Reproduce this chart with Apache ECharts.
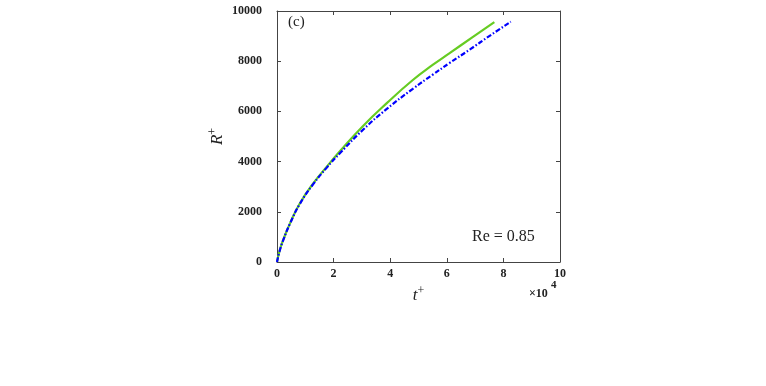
<!DOCTYPE html>
<html>
<head>
<meta charset="utf-8">
<script src="https://cdn.jsdelivr.net/npm/echarts@6/dist/echarts.min.js"></script>
<style>
  html, body { margin: 0; padding: 0; background: #fff; }
  #main { width: 766px; height: 386px; }
</style>
</head>
<body>
<div id="main"></div>
<script>
// t+ (x 10^4) and R+
var greenT = [0, 0.1, 0.22, 0.46, 0.81, 1.28, 1.76, 2.23, 3.05, 3.88, 4.8, 5.5, 6.1, 6.9, 7.68];
var greenR = [0, 480, 880, 1540, 2340, 3130, 3800, 4420, 5430, 6330, 7250, 7850, 8320, 8950, 9560];
var blueT = [0, 0.1, 0.22, 0.46, 0.81, 1.28, 1.76, 2.23, 3.05, 3.88, 4.8, 5.5, 6.1, 6.82, 7.5, 8.26];
var blueR = [0, 470, 870, 1530, 2320, 3100, 3760, 4340, 5280, 6100, 6900, 7460, 7930, 8470, 9000, 9570];
var xTicks = [0, 2, 4, 6, 8, 10];
var yTicks = [0, 2000, 4000, 6000, 8000, 10000];

function pairs(xs, ys) {
  var out = [];
  for (var i = 0; i < xs.length; i++) out.push([xs[i], ys[i]]);
  return out;
}

var chart = echarts.init(document.getElementById('main'));
var serif = '"Liberation Serif", "DejaVu Serif", serif';
var axisColor = '#444';

var labelStyle = {
  fontFamily: serif, fontWeight: 'bold', fontSize: 12, color: '#222',
  formatter: function (v) { return String(v); }
};

// 上/右两条轴只画框线和刻度
function boxAxis(pos, max, step) {
  return {
    type: 'value', position: pos, min: 0, max: max, interval: step,
    axisLine: { show: true, onZero: false, lineStyle: { color: axisColor, width: 1 } },
    axisTick: { show: true, inside: true, length: 4, lineStyle: { color: axisColor } },
    axisLabel: { show: false }, splitLine: { show: false }
  };
}

var nameRich = {
  i: { fontFamily: serif, fontStyle: 'italic', fontSize: 17, color: '#222' },
  s: { fontFamily: serif, fontSize: 12, color: '#222', padding: [0, 0, 10, 0] }
};

var option = {
  animation: false,
  grid: { left: 277, top: 11, width: 283, height: 251 },
  xAxis: [{
    type: 'value', position: 'bottom',
    min: xTicks[0], max: xTicks[xTicks.length - 1], interval: 2,
    axisLine: { show: true, onZero: false, lineStyle: { color: axisColor, width: 1 } },
    axisTick: { show: true, inside: true, length: 4, lineStyle: { color: axisColor } },
    axisLabel: Object.assign({ margin: 6 }, labelStyle),
    splitLine: { show: false },
    name: '{i|t}{s|+}',
    nameLocation: 'middle', nameGap: 16,
    nameTextStyle: { rich: nameRich }
  }, boxAxis('top', 10, 2)],
  yAxis: [{
    type: 'value', position: 'left',
    min: yTicks[0], max: yTicks[yTicks.length - 1], interval: 2000,
    axisLine: { show: true, onZero: false, lineStyle: { color: axisColor, width: 1 } },
    axisTick: { show: true, inside: true, length: 4, lineStyle: { color: axisColor } },
    axisLabel: Object.assign({ margin: 15 }, labelStyle),
    splitLine: { show: false },
    name: '{i|R}{s|+}',
    nameLocation: 'middle', nameGap: 48,
    nameTextStyle: { rich: nameRich }
  }, boxAxis('right', 10000, 2000)],
  graphic: [
    {
      type: 'text', left: 288, top: 15,
      style: { text: '(c)', font: '15px ' + serif, fill: '#222' }
    },
    {
      type: 'text', left: 472, top: 229,
      style: { text: 'Re = 0.85', font: '16px ' + serif, fill: '#222' }
    },
    {
      type: 'text', left: 529, top: 288,
      style: { text: '×10', font: 'bold 12px ' + serif, fill: '#222' }
    },
    {
      type: 'text', left: 551, top: 280,
      style: { text: '4', font: 'bold 11px ' + serif, fill: '#222' }
    }
  ],
  series: [{
    type: 'line', name: 'green', xAxisIndex: 0, yAxisIndex: 0,
    data: pairs(greenT, greenR),
    smooth: true, showSymbol: false,
    lineStyle: { color: '#66cc22', width: 2.2 }
  }, {
    type: 'line', name: 'blue', xAxisIndex: 0, yAxisIndex: 0,
    data: pairs(blueT, blueR),
    smooth: true, showSymbol: false,
    lineStyle: { color: '#0000ff', width: 2.2, type: [5, 2, 1.5, 2] }
  }]
};

chart.setOption(option);
</script>
</body>
</html>
